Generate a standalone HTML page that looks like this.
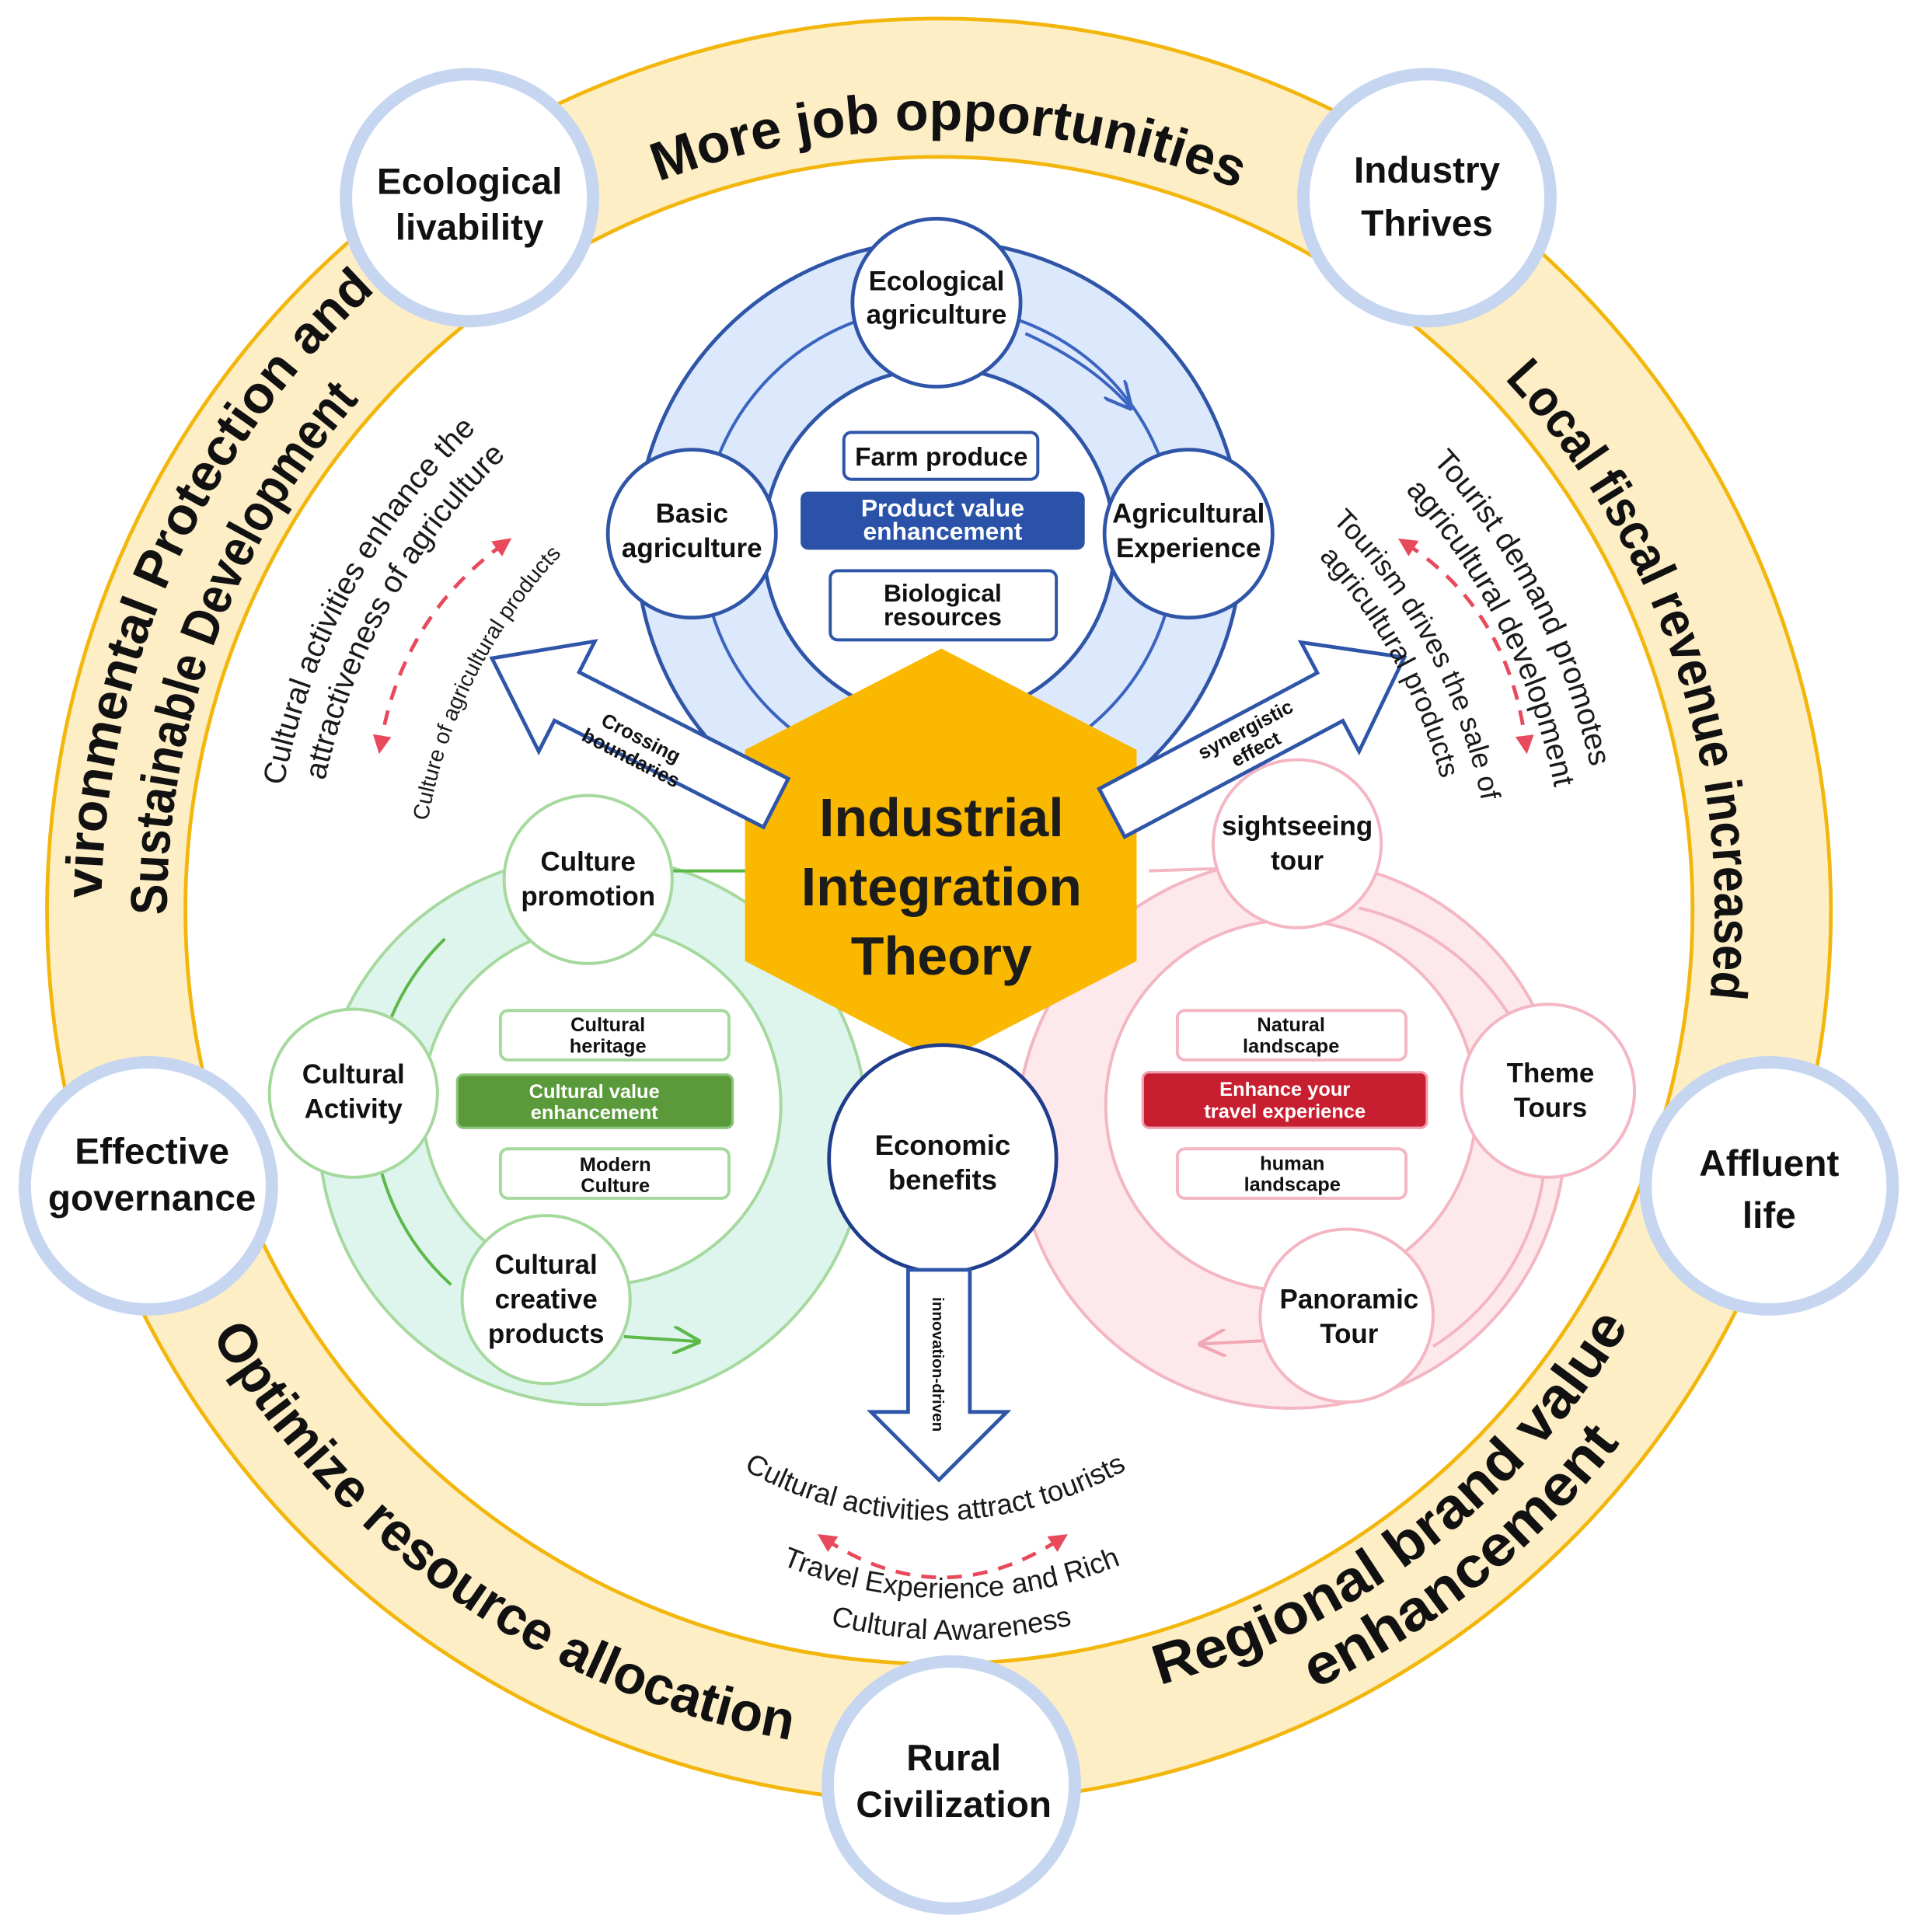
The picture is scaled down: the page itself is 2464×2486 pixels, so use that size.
<!DOCTYPE html>
<html><head><meta charset="utf-8"><style>html,body{margin:0;padding:0;background:#fff}svg{display:block}</style></head>
<body>
<svg xmlns="http://www.w3.org/2000/svg" width="2464" height="2486" viewBox="0 0 1550 1564" font-family="Liberation Sans, Arial, sans-serif">
<defs>
<path id="cw632" d="M128 737 A632 632 0 1 1 1392 737 A632 632 0 1 1 128 737"/>
<path id="cw628" d="M132 737 A628 628 0 1 1 1388 737 A628 628 0 1 1 132 737"/>
<path id="cw678" d="M82 737 A678 678 0 1 1 1438 737 A678 678 0 1 1 82 737"/>
<path id="cw625" d="M135 737 A625 625 0 1 1 1385 737 A625 625 0 1 1 135 737"/>
<path id="ccw682" d="M78 737 A682 682 0 1 0 1442 737 A682 682 0 1 0 78 737"/>
<path id="ccw652" d="M108 737 A652 652 0 1 0 1412 737 A652 652 0 1 0 108 737"/>
<path id="ccw700" d="M60 737 A700 700 0 1 0 1460 737 A700 700 0 1 0 60 737"/>
<path id="cw540" d="M220 737 A540 540 0 1 1 1300 737 A540 540 0 1 1 220 737"/>
<path id="cw508" d="M252 737 A508 508 0 1 1 1268 737 A508 508 0 1 1 252 737"/>
<path id="cw420" d="M340 737 A420 420 0 1 1 1180 737 A420 420 0 1 1 340 737"/>
<path id="cw448" d="M312 737 A448 448 0 1 1 1208 737 A448 448 0 1 1 312 737"/>
<path id="cw478" d="M282 737 A478 478 0 1 1 1238 737 A478 478 0 1 1 282 737"/>
<path id="bot1" d="M596 1186 A312 312 0 0 0 918 1186"/>
<path id="bot2" d="M622 1262 A360 360 0 0 0 918 1262"/>
<path id="bot3" d="M660 1312 A400 400 0 0 0 880 1312"/>
<marker id="rh" viewBox="0 0 10 10" refX="5" refY="5" markerWidth="5" markerHeight="5" orient="auto-start-reverse"><path d="M0 0 L10 5 L0 10 z" fill="#e84a5c"/></marker>
<marker id="bh" viewBox="0 0 10 10" refX="9" refY="5" markerWidth="9" markerHeight="9" orient="auto"><path d="M0 0 L10 5 L0 10" fill="none" stroke="#3a64c0" stroke-width="1.2"/></marker>
<marker id="gh" viewBox="0 0 10 10" refX="9" refY="5" markerWidth="9" markerHeight="9" orient="auto"><path d="M0 0 L10 5 L0 10" fill="none" stroke="#5cb848" stroke-width="1.2"/></marker>
<marker id="ph" viewBox="0 0 10 10" refX="9" refY="5" markerWidth="9" markerHeight="9" orient="auto"><path d="M0 0 L10 5 L0 10" fill="none" stroke="#f2a7b5" stroke-width="1.2"/></marker>
</defs>

<!-- outer ring band -->
<circle cx="760" cy="737" r="666" fill="none" stroke="#fdeec6" stroke-width="112"/>
<circle cx="760" cy="737" r="722" fill="none" stroke="#f2b60c" stroke-width="3"/>
<circle cx="760" cy="737" r="610" fill="none" stroke="#f2b60c" stroke-width="3"/>

<g font-weight="bold" fill="#111">
<text font-size="44"><textPath href="#cw632" startOffset="25.2%" text-anchor="middle" textLength="480" lengthAdjust="spacingAndGlyphs">More job opportunities</textPath></text>
<text font-size="42"><textPath href="#cw628" startOffset="44.9%" text-anchor="middle" textLength="545" lengthAdjust="spacingAndGlyphs">Local fiscal revenue increased</textPath></text>
<text font-size="42"><textPath href="#cw678" startOffset="6.1%" text-anchor="middle" textLength="610" lengthAdjust="spacingAndGlyphs">Environmental Protection and</textPath></text>
<text font-size="42"><textPath href="#cw625" startOffset="5.7%" text-anchor="middle" textLength="455" lengthAdjust="spacingAndGlyphs">Sustainable Development</textPath></text>
<text font-size="44"><textPath href="#ccw682" startOffset="15.3%" text-anchor="middle" textLength="590" lengthAdjust="spacingAndGlyphs">Optimize resource allocation</textPath></text>
<text font-size="46"><textPath href="#ccw652" startOffset="35.4%" text-anchor="middle" textLength="490" lengthAdjust="spacingAndGlyphs">Regional brand value</textPath></text>
<text font-size="46"><textPath href="#ccw700" startOffset="35.8%" text-anchor="middle" textLength="320" lengthAdjust="spacingAndGlyphs">enhancement</textPath></text>
</g>

<!-- ring nodes -->
<g fill="#fff" stroke="#c6d6f0" stroke-width="10">
<circle cx="380" cy="160" r="100"/>
<circle cx="1155" cy="160" r="100"/>
<circle cx="120" cy="960" r="100"/>
<circle cx="1432" cy="960" r="100"/>
<circle cx="770" cy="1445" r="100"/>
</g>
<g font-weight="bold" font-size="30" fill="#111" text-anchor="middle">
<text x="380" y="157">Ecological</text><text x="380" y="194">livability</text>
<text x="1155" y="148">Industry</text><text x="1155" y="191">Thrives</text>
<text x="123" y="942">Effective</text><text x="123" y="980">governance</text>
<text x="1432" y="952">Affluent</text><text x="1432" y="994">life</text>
<text x="772" y="1433">Rural</text><text x="772" y="1471">Civilization</text>
</g>

<!-- blue group -->
<circle cx="760" cy="440" r="245" fill="#dce8fb" stroke="#2f55a8" stroke-width="3"/>
<circle cx="760" cy="440" r="192" fill="none" stroke="#3a64c0" stroke-width="2.5"/>
<circle cx="760" cy="440" r="142" fill="#fff" stroke="#2f55a8" stroke-width="3"/>
<path d="M830 270 Q885 295 915 330" fill="none" stroke="#3a64c0" stroke-width="2.5" marker-end="url(#bh)"/>
<g fill="#fff" stroke="#2f55a8" stroke-width="3">
<circle cx="758" cy="245" r="68"/>
<circle cx="560" cy="432" r="68"/>
<circle cx="962" cy="432" r="68"/>
</g>
<g font-size="22" fill="#111" text-anchor="middle" font-weight="bold">
<text x="758" y="235">Ecological</text><text x="758" y="262">agriculture</text>
<text x="560" y="423">Basic</text><text x="560" y="451">agriculture</text>
<text x="962" y="423">Agricultural</text><text x="962" y="451">Experience</text>
</g>
<rect x="683" y="350" width="157" height="38" rx="6" fill="#fff" stroke="#2f55a8" stroke-width="2.5"/>
<rect x="648" y="398" width="230" height="47" rx="6" fill="#2a52a8"/>
<rect x="672" y="462" width="183" height="56" rx="6" fill="#fff" stroke="#2f55a8" stroke-width="2.5"/>
<g font-weight="bold" text-anchor="middle">
<text x="762" y="377" font-size="21" fill="#111">Farm produce</text>
<text x="763" y="418" font-size="20" fill="#fff">Product value</text>
<text x="763" y="437" font-size="20" fill="#fff">enhancement</text>
<text x="763" y="487" font-size="20" fill="#111">Biological</text>
<text x="763" y="506" font-size="20" fill="#111">resources</text>
</g>

<!-- green group -->
<circle cx="480" cy="915" r="222" fill="#def5ee" stroke="#a6d99e" stroke-width="2.5"/>
<path d="M540 705 L605 705" stroke="#5cb848" stroke-width="2.5"/>
<path d="M360 760 A192 192 0 0 0 365 1040" fill="none" stroke="#5cb848" stroke-width="2.5"/>
<circle cx="487" cy="895" r="145" fill="#fff" stroke="#a6d99e" stroke-width="2.5"/>
<path d="M505 1082 L565 1086" fill="none" stroke="#5cb848" stroke-width="2.5" marker-end="url(#gh)"/>
<g fill="#fff" stroke="#a6d99e" stroke-width="2.5">
<circle cx="476" cy="712" r="68"/>
<circle cx="286" cy="885" r="68"/>
<circle cx="442" cy="1052" r="68"/>
</g>
<g font-size="22" fill="#111" text-anchor="middle" font-weight="bold">
<text x="476" y="705">Culture</text><text x="476" y="733">promotion</text>
<text x="286" y="877">Cultural</text><text x="286" y="905">Activity</text>
<text x="442" y="1031">Cultural</text><text x="442" y="1059">creative</text><text x="442" y="1087">products</text>
</g>
<rect x="405" y="818" width="185" height="40" rx="6" fill="#fff" stroke="#a6d99e" stroke-width="2.5"/>
<rect x="370" y="870" width="223" height="43" rx="5" fill="#5a9a3a" stroke="#8cc47a" stroke-width="2"/>
<rect x="405" y="930" width="185" height="40" rx="6" fill="#fff" stroke="#a6d99e" stroke-width="2.5"/>
<g font-weight="bold" text-anchor="middle" font-size="16">
<text x="492" y="835" fill="#111">Cultural</text><text x="492" y="852" fill="#111">heritage</text>
<text x="481" y="889" fill="#fff">Cultural value</text><text x="481" y="906" fill="#fff">enhancement</text>
<text x="498" y="948" fill="#111">Modern</text><text x="498" y="965" fill="#111">Culture</text>
</g>

<!-- pink group -->
<circle cx="1045" cy="918" r="222" fill="#fde9ec" stroke="#f3b6c2" stroke-width="2.5"/>
<path d="M930 705 L990 703" stroke="#f3b6c2" stroke-width="2.5"/>
<path d="M1100 735 A195 195 0 0 1 1160 1090" fill="none" stroke="#f3b6c2" stroke-width="2.5"/>
<circle cx="1045" cy="895" r="150" fill="#fff" stroke="#f3b6c2" stroke-width="2.5"/>
<path d="M1030 1085 L972 1088" fill="none" stroke="#f2a7b5" stroke-width="2.5" marker-end="url(#ph)"/>
<g fill="#fff" stroke="#f3b6c2" stroke-width="2.5">
<circle cx="1050" cy="683" r="68"/>
<circle cx="1253" cy="883" r="70"/>
<circle cx="1090" cy="1065" r="70"/>
</g>
<g font-size="22" fill="#111" text-anchor="middle" font-weight="bold">
<text x="1050" y="676">sightseeing</text><text x="1050" y="704">tour</text>
<text x="1255" y="876">Theme</text><text x="1255" y="904">Tours</text>
<text x="1092" y="1059">Panoramic</text><text x="1092" y="1087">Tour</text>
</g>
<rect x="953" y="818" width="185" height="40" rx="6" fill="#fff" stroke="#f3b6c2" stroke-width="2.5"/>
<rect x="925" y="868" width="230" height="45" rx="5" fill="#c81f30" stroke="#f0a0ae" stroke-width="2"/>
<rect x="953" y="930" width="185" height="40" rx="6" fill="#fff" stroke="#f3b6c2" stroke-width="2.5"/>
<g font-weight="bold" text-anchor="middle" font-size="16">
<text x="1045" y="835" fill="#111">Natural</text><text x="1045" y="852" fill="#111">landscape</text>
<text x="1040" y="887" fill="#fff">Enhance your</text><text x="1040" y="905" fill="#fff">travel experience</text>
<text x="1046" y="947" fill="#111">human</text><text x="1046" y="964" fill="#111">landscape</text>
</g>

<!-- hexagon -->
<polygon points="762,525 920,607 920,778 762,860 603,778 603,607" fill="#fbb800"/>
<g font-weight="bold" font-size="44" fill="#1c1c1c" text-anchor="middle">
<text x="762" y="677">Industrial</text>
<text x="762" y="733">Integration</text>
<text x="762" y="789">Theory</text>
</g>

<!-- economic benefits -->
<circle cx="763" cy="938" r="92" fill="#fff" stroke="#1f3d8c" stroke-width="3"/>
<g font-size="23" fill="#111" text-anchor="middle" font-weight="bold">
<text x="763" y="935">Economic</text><text x="763" y="963">benefits</text>
</g>

<!-- block arrows -->
<polygon points="0,-25 115,-25 115,-55 170,0 115,55 115,25 0,25" transform="translate(760,1028) rotate(90)" fill="#fff" stroke="#2f55a8" stroke-width="3"/>
<text transform="translate(755,1050) rotate(90)" font-size="13" font-weight="bold" fill="#111">innovation-driven</text>

<polygon points="0,-22 190,-22 190,-50 258,0 190,50 190,22 0,22" transform="translate(628,650) rotate(207)" fill="#fff" stroke="#2f55a8" stroke-width="3"/>
<g transform="translate(515,605) rotate(27)" font-size="16" font-weight="bold" fill="#111" text-anchor="middle">
<text x="0" y="-3">Crossing</text><text x="0" y="15">boundaries</text>
</g>

<polygon points="0,-22 200,-22 200,-50 268,0 200,50 200,22 0,22" transform="translate(900,658) rotate(-28)" fill="#fff" stroke="#2f55a8" stroke-width="3"/>
<g transform="translate(1012,598) rotate(-28)" font-size="16" font-weight="bold" fill="#111" text-anchor="middle">
<text x="0" y="-3">synergistic</text><text x="0" y="15">effect</text>
</g>

<!-- dashed red arrows -->
<g fill="none" stroke="#e84a5c" stroke-width="3" stroke-dasharray="12 9">
<path d="M408 440 Q325 500 308 603" marker-start="url(#rh)" marker-end="url(#rh)"/>
<path d="M1138 440 Q1222 495 1235 603" marker-start="url(#rh)" marker-end="url(#rh)"/>
<path d="M668 1246 Q762 1308 858 1246" marker-start="url(#rh)" marker-end="url(#rh)"/>
</g>

<!-- small curved texts -->
<g fill="#1a1a1a">
<text font-size="25"><textPath href="#cw540" startOffset="7.9%" text-anchor="middle">Cultural activities enhance the</textPath></text>
<text font-size="25"><textPath href="#cw508" startOffset="8.1%" text-anchor="middle">attractiveness of agriculture</textPath></text>
<text font-size="18"><textPath href="#cw420" startOffset="7.4%" text-anchor="middle">Culture of agricultural products</textPath></text>
<text font-size="25"><textPath href="#cw540" startOffset="42.4%" text-anchor="middle">Tourist demand promotes</textPath></text>
<text font-size="25"><textPath href="#cw508" startOffset="42.6%" text-anchor="middle">agricultural development</textPath></text>
<text font-size="23"><textPath href="#cw448" startOffset="42.2%" text-anchor="middle">Tourism drives the sale of</textPath></text>
<text font-size="23"><textPath href="#cw420" startOffset="42.0%" text-anchor="middle">agricultural products</textPath></text>
<text font-size="23"><textPath href="#bot1" startOffset="50%" text-anchor="middle">Cultural activities attract tourists</textPath></text>
<text font-size="23"><textPath href="#bot2" startOffset="50%" text-anchor="middle">Travel Experience and Rich</textPath></text>
<text font-size="23"><textPath href="#bot3" startOffset="50%" text-anchor="middle">Cultural Awareness</textPath></text>
</g>
</svg>
</body></html>
